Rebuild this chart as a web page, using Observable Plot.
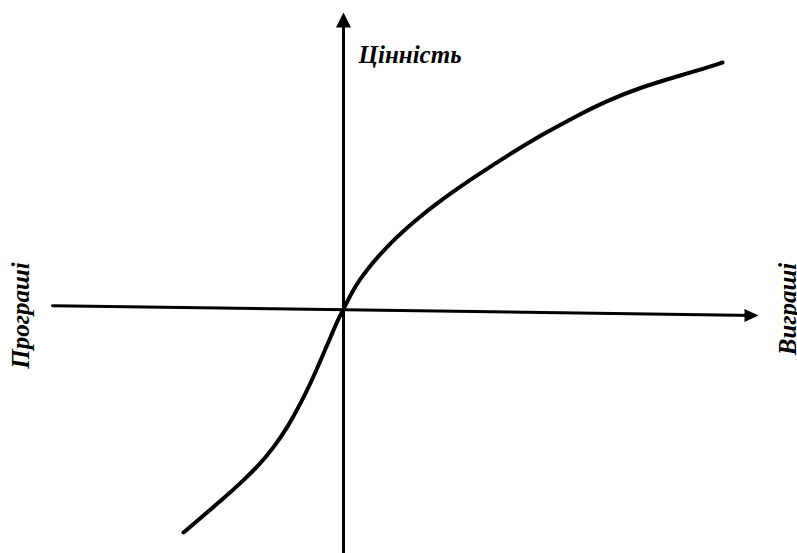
<!DOCTYPE html>
<html>
<head>
<meta charset="utf-8">
<script src="https://cdn.jsdelivr.net/npm/d3@7"></script>
<script src="https://cdn.jsdelivr.net/npm/@observablehq/plot@0.6"></script>
<style>
  html, body { margin: 0; padding: 0; background: #fff; }
  #chart svg { display: block; }
  #chart svg text { font-family: "Times New Roman", "Liberation Serif", serif; font-weight: bold; font-style: italic; }
</style>
</head>
<body>
<div id="chart"></div>
<script>
// Value function (prospect theory): offsets from the origin, in abstract units
const curveX = [-160, -140, -120, -100, -83, -70, -56, -43, -33, -23, -13, -6, 0, 10, 24, 47, 74, 97, 130, 164, 197, 230, 264, 297, 330, 364, 379];
const curveY = [-223, -206, -189, -171, -154, -138, -118, -94, -74, -51, -28, -11, 0, 21, 41, 67, 91, 109, 132, 154, 174, 192, 209, 222, 232, 242, 247];

// Axes (gains/losses horizontal, value vertical)
const hAxisX = [-291, 411];
const hAxisY = [3.7, -6];
const vAxisX = [0, 0];
const vAxisY = [-244, 293];

// Labels
const labelText = ["Цінність", "Програші", "Виграші"];
const labelX = [15, -315, 452];
const labelY = [247, -6, 0.5];

const curve = curveX.map((x, i) => ({x, y: curveY[i]}));
const hAxis = hAxisX.map((x, i) => ({x, y: hAxisY[i]}));
const vAxis = vAxisX.map((x, i) => ({x, y: vAxisY[i]}));

// custom filled arrowhead symbols (tip 4px beyond anchor point)
const arrowUp = {draw(ctx) { ctx.moveTo(0, -4); ctx.lineTo(7.5, 11); ctx.lineTo(-7.5, 11); ctx.closePath(); }};
const arrowRight = {draw(ctx) { ctx.moveTo(4, 0); ctx.lineTo(-10, -6.5); ctx.lineTo(-10, 6.5); ctx.closePath(); }};

const font = {fontFamily: "Times New Roman", fontWeight: "bold", fontStyle: "italic", fontSize: 25, fill: "black"};

const plot = Plot.plot({
  width: 797,
  height: 553,
  margin: 0,
  x: {domain: [-343, 454], range: [0, 797], axis: null},
  y: {domain: [-244, 309], range: [553, 0], axis: null},
  style: {background: "white"},
  marks: [
    Plot.line(vAxis, {x: "x", y: "y", stroke: "black", strokeWidth: 3}),
    Plot.line(hAxis, {x: "x", y: "y", stroke: "black", strokeWidth: 3}),
    Plot.dot([vAxis[1]], {x: "x", y: "y", symbol: arrowUp, r: 5, fill: "black", stroke: "none"}),
    Plot.dot([hAxis[1]], {x: "x", y: "y", symbol: arrowRight, r: 5, fill: "black", stroke: "none"}),
    Plot.line(curve, {x: "x", y: "y", curve: "basis", stroke: "black", strokeWidth: 4, strokeLinecap: "round"}),
    Plot.text([0], {x: () => labelX[0], y: () => labelY[0], text: () => labelText[0], textAnchor: "start", lineAnchor: "bottom", ...font}),
    Plot.text([0], {x: () => labelX[1], y: () => labelY[1], text: () => labelText[1], textAnchor: "middle", lineAnchor: "bottom", rotate: -90, ...font}),
    Plot.text([0], {x: () => labelX[2], y: () => labelY[2], text: () => labelText[2], textAnchor: "middle", lineAnchor: "bottom", rotate: -90, ...font})
  ]
});
document.getElementById("chart").appendChild(plot);
</script>
</body>
</html>
